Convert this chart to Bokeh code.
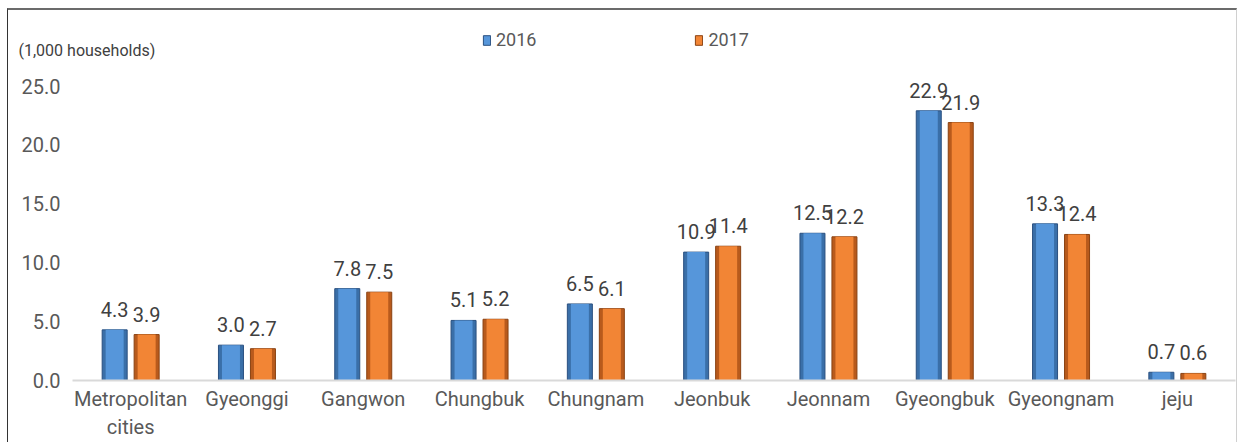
from bokeh.plotting import figure
from bokeh.layouts import column
from bokeh.models import (ColumnDataSource, Range1d, FactorRange, FixedTicker, NumeralTickFormatter,
                          Legend, LegendItem, Label)
from bokeh.transform import dodge
from bokeh.core.properties import value
from bokeh.embed import file_html
from bokeh.resources import INLINE

categories = ["Metropolitan\ncities", "Gyeonggi", "Gangwon", "Chungbuk", "Chungnam",
              "Jeonbuk", "Jeonnam", "Gyeongbuk", "Gyeongnam", "jeju"]
v2016 = [4.3, 3.0, 7.8, 5.1, 6.5, 10.9, 12.5, 22.9, 13.3, 0.7]
v2017 = [3.9, 2.7, 7.5, 5.2, 6.1, 11.4, 12.2, 21.9, 12.4, 0.6]
y_ticks = [0, 5, 10, 15, 20, 25]
series_names = ["2016", "2017"]
unit_label = "(1,000 households)"

FONT = "Roboto"
W = 1228
HEAD_H = 52
MAIN_H = 380

BLUE_EDGE, BLUE_LINE, BLUE_MID = "#3A6FA8", "#2A5080", "#5696DA"
ORNG_EDGE, ORNG_LINE, ORNG_MID = "#B85A1C", "#8A4212", "#F28535"

src = ColumnDataSource(dict(
    cat=categories, v2016=v2016, v2017=v2017,
    t2016=[f"{v:.1f}" for v in v2016], t2017=[f"{v:.1f}" for v in v2017],
))

# ---------- header (legend + unit label) ----------
head = figure(width=W, height=HEAD_H, x_range=Range1d(0, W), y_range=Range1d(0, HEAD_H),
              output_backend="svg", toolbar_location=None,
              min_border_left=0, min_border_right=0, min_border_top=0, min_border_bottom=0)
head.frame_align = False
head.axis.visible = False
head.grid.visible = False
head.outline_line_color = None
# legend proxies, placed outside the visible header range
proxy = ColumnDataSource(dict(x=[-1000], top=[0]))
r1 = head.vbar(x="x", top="top", width=1, source=proxy, fill_color=BLUE_MID, line_color=BLUE_LINE)
r2 = head.vbar(x="x", top="top", width=1, source=proxy, fill_color=ORNG_MID, line_color=ORNG_LINE)
legend = Legend(items=[LegendItem(label=series_names[0], renderers=[r1]),
                       LegendItem(label=series_names[1], renderers=[r2])],
                location=(474, 12), orientation="horizontal", spacing=158,
                padding=0, margin=0, glyph_width=9, glyph_height=12, label_standoff=5,
                label_text_font=FONT, label_text_font_size="18px", label_text_color="#595959",
                background_fill_alpha=0, border_line_color=None)
head.add_layout(legend, "center")
head.add_layout(Label(x=10, y=12, x_units="screen", y_units="screen", text=unit_label,
                      text_font=FONT, text_font_size="16px", text_color="#404040",
                      text_baseline="middle"))

# ---------- main chart ----------
p = figure(x_range=FactorRange(factors=categories), y_range=Range1d(0, 27),
           width=W, height=MAIN_H, output_backend="svg", toolbar_location=None,
           min_border_left=64, min_border_right=1, min_border_top=0, min_border_bottom=60)
p.frame_align = False
p.outline_line_color = None
p.grid.visible = False

OFF = 0.1375
BW = 0.215
p.vbar(x=dodge("cat", -OFF, range=p.x_range), top="v2016", width=BW, source=src,
       fill_color=BLUE_EDGE, line_color=BLUE_LINE, line_width=1)
p.vbar(x=dodge("cat", -OFF, range=p.x_range), top="v2016", width=BW * 0.72, source=src,
       fill_color=BLUE_MID, line_color=None)
p.vbar(x=dodge("cat", OFF, range=p.x_range), top="v2017", width=BW, source=src,
       fill_color=ORNG_EDGE, line_color=ORNG_LINE, line_width=1)
p.vbar(x=dodge("cat", OFF, range=p.x_range), top="v2017", width=BW * 0.72, source=src,
       fill_color=ORNG_MID, line_color=None)

for col, off in (("2016", -OFF), ("2017", OFF)):
    p.text(x=dodge("cat", off, range=p.x_range), y="v" + col, text="t" + col, source=src,
           text_align="center", text_baseline="bottom", y_offset=-13,
           text_font=value(FONT), text_font_size="20px", text_color="#404040")

p.yaxis.ticker = FixedTicker(ticks=y_ticks)
p.yaxis.formatter = NumeralTickFormatter(format="0.0")
p.yaxis.axis_line_color = None
p.yaxis.major_tick_line_color = None
p.yaxis.minor_tick_line_color = None
p.yaxis.major_tick_out = 0
p.yaxis.major_tick_in = 0
p.yaxis.minor_tick_out = 0
p.yaxis.major_label_text_font = FONT
p.yaxis.major_label_text_font_size = "20px"
p.yaxis.major_label_text_color = "#595959"
p.yaxis.major_label_standoff = 12

p.xaxis.axis_line_color = "#d9d9d9"
p.xaxis.axis_line_width = 2
p.xaxis.major_tick_line_color = None
p.xaxis.minor_tick_line_color = None
p.xaxis.major_tick_out = 0
p.xaxis.major_tick_in = 0
p.xaxis.minor_tick_out = 0
p.xaxis.major_label_text_font = FONT
p.xaxis.major_label_text_font_size = "20px"
p.xaxis.major_label_text_color = "#595959"
p.xaxis.major_label_text_line_height = 1.2
p.xaxis.major_label_standoff = 6

layout = column(head, p, spacing=0,
                styles={"margin-left": "7px", "margin-top": "8px",
                        "border-top": "2px solid #6b6b6b", "border-left": "1px solid #333333",
                        "border-right": "1px solid #d0d0d0"})

open("out.html", "w").write(file_html(layout, INLINE))
